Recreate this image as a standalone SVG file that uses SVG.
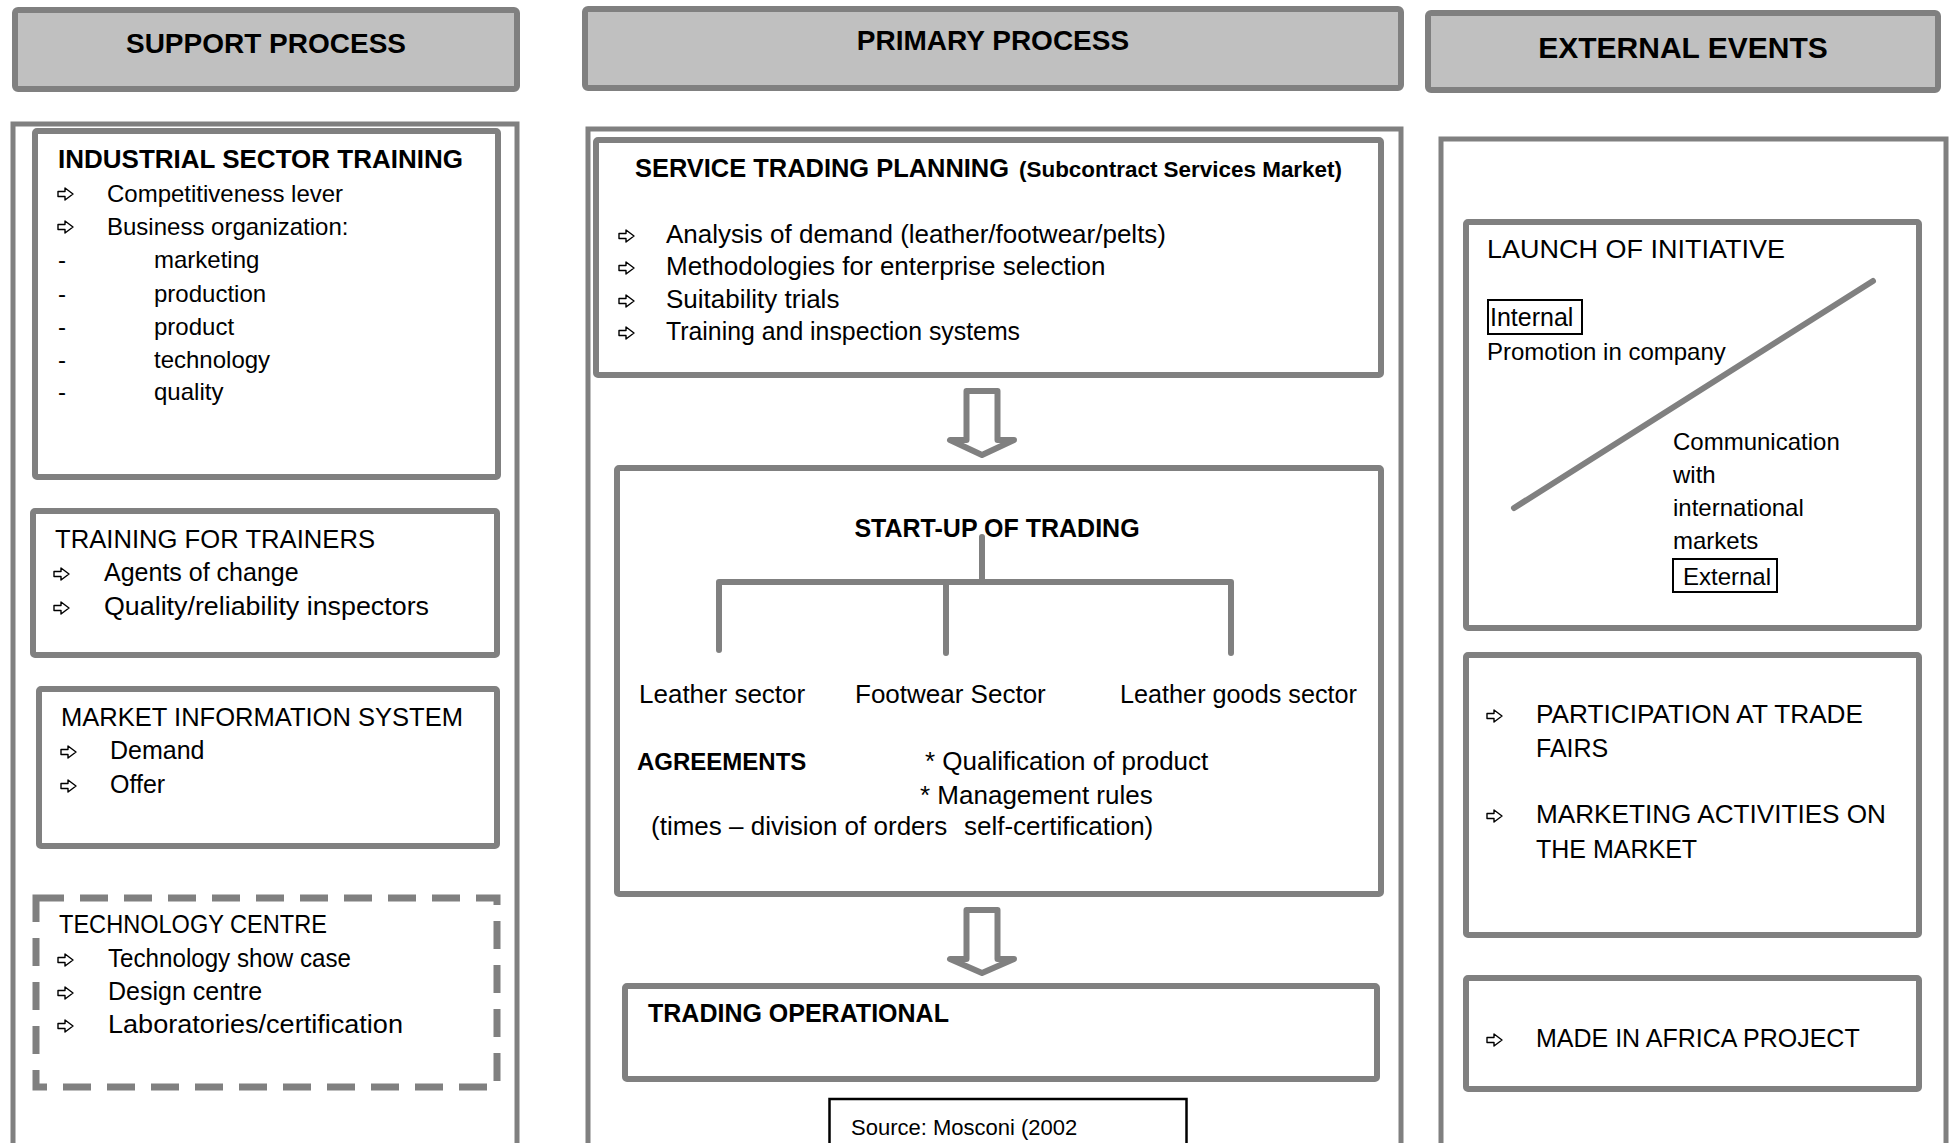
<svg xmlns="http://www.w3.org/2000/svg" width="1951" height="1143" viewBox="0 0 1951 1143">
<style>
.hdr{fill:#c0c0c0;stroke:#808080;stroke-width:6}
.cont{fill:#fff;stroke:#808080;stroke-width:5}
.box{fill:#fff;stroke:#808080;stroke-width:6}
.dash{fill:#fff;stroke:#808080;stroke-width:7;stroke-dasharray:28 16}
.tag{fill:none;stroke:#000;stroke-width:2}
.src{fill:#fff;stroke:#000;stroke-width:2.5}
text{font-family:"Liberation Sans",Arial,sans-serif;fill:#000}
.b{font-weight:bold}
.h{font-weight:bold;font-size:28px;text-anchor:middle}
.s24{font-size:24px}
.s25{font-size:25px}
.s26{font-size:26px}
.conn{stroke:#808080;stroke-width:6;fill:none;stroke-linecap:round}
.blk{fill:#fff;stroke:#808080;stroke-width:6;stroke-linejoin:round}
.bul{fill:#fff;stroke:#000;stroke-width:1.4;stroke-linejoin:round}
</style>
<defs>
<path id="bul" class="bul" d="M0,-2.5 H7 V-6 L15,0 L7,6 V2.5 H0 Z"/>
</defs>
<rect width="1951" height="1143" fill="#fff"/>

<!-- column headers -->
<g id="hdr-support"><rect class="hdr" x="15" y="10" width="502" height="79" rx="3"/><text class="h" x="266" y="53">SUPPORT PROCESS</text></g>
<g id="hdr-primary"><rect class="hdr" x="585" y="9" width="816" height="79" rx="3"/><text class="h" x="993" y="50">PRIMARY PROCESS</text></g>
<g id="hdr-external"><rect class="hdr" x="1428" y="13" width="510" height="77" rx="3"/><text class="h" x="1683" y="58" style="font-size:30px">EXTERNAL EVENTS</text></g>

<!-- column containers -->
<g id="col-support"><rect class="cont" x="13" y="124" width="504" height="1040"/></g>
<g id="col-primary"><rect class="cont" x="588" y="129" width="813" height="1040"/></g>
<g id="col-external"><rect class="cont" x="1441" y="139" width="505" height="1040"/></g>

<!-- support process -->
<g id="industrial-training">
<rect class="box" x="35" y="131" width="463" height="346" rx="2"/>
<text class="b" x="58" y="168" style="font-size:26px">INDUSTRIAL SECTOR TRAINING</text>
<use href="#bul" x="58" y="194"/><text class="s24" x="107" y="202">Competitiveness lever</text>
<use href="#bul" x="58" y="227"/><text class="s24" x="107" y="235">Business organization:</text>
<text class="s24" x="58" y="268">-</text><text class="s24" x="154" y="268">marketing</text>
<text class="s24" x="58" y="302">-</text><text class="s24" x="154" y="302">production</text>
<text class="s24" x="58" y="335">-</text><text class="s24" x="154" y="335">product</text>
<text class="s24" x="58" y="368">-</text><text class="s24" x="154" y="368">technology</text>
<text class="s24" x="58" y="400">-</text><text class="s24" x="154" y="400">quality</text>
</g>
<g id="training-trainers">
<rect class="box" x="33" y="511" width="464" height="144" rx="2"/>
<text class="s25" x="55" y="548" textLength="320" lengthAdjust="spacingAndGlyphs">TRAINING FOR TRAINERS</text>
<use href="#bul" x="54" y="574"/><text class="s25" x="104" y="581">Agents of change</text>
<use href="#bul" x="54" y="608"/><text class="s25" x="104" y="615" textLength="325" lengthAdjust="spacingAndGlyphs">Quality/reliability inspectors</text>
</g>
<g id="market-info">
<rect class="box" x="39" y="689" width="458" height="157" rx="2"/>
<text class="s25" x="61" y="726" textLength="402" lengthAdjust="spacingAndGlyphs">MARKET INFORMATION SYSTEM</text>
<use href="#bul" x="61" y="752"/><text class="s25" x="110" y="759">Demand</text>
<use href="#bul" x="61" y="786"/><text class="s25" x="110" y="793">Offer</text>
</g>
<g id="technology-centre">
<rect class="dash" x="36" y="898" width="461" height="189"/>
<text class="s25" x="59" y="933" textLength="268" lengthAdjust="spacingAndGlyphs">TECHNOLOGY CENTRE</text>
<use href="#bul" x="58" y="960"/><text class="s25" x="108" y="967" textLength="243" lengthAdjust="spacingAndGlyphs">Technology show case</text>
<use href="#bul" x="58" y="993"/><text class="s25" x="108" y="1000">Design centre</text>
<use href="#bul" x="58" y="1026"/><text class="s25" x="108" y="1033" textLength="295" lengthAdjust="spacingAndGlyphs">Laboratories/certification</text>
</g>

<!-- primary process -->
<g id="service-planning">
<rect class="box" x="596" y="140" width="785" height="235" rx="2"/>
<text class="b" x="635" y="177" style="font-size:25px" textLength="374" lengthAdjust="spacingAndGlyphs">SERVICE TRADING PLANNING</text>
<text class="b" x="1019" y="177" style="font-size:22px" textLength="323" lengthAdjust="spacingAndGlyphs">(Subcontract Services Market)</text>
<use href="#bul" x="619" y="236"/><text class="s26" x="666" y="243">Analysis of demand (leather/footwear/pelts)</text>
<use href="#bul" x="619" y="268"/><text class="s26" x="666" y="275">Methodologies for enterprise selection</text>
<use href="#bul" x="619" y="301"/><text class="s26" x="666" y="308">Suitability trials</text>
<use href="#bul" x="619" y="333"/><text class="s26" x="666" y="340" textLength="354" lengthAdjust="spacingAndGlyphs">Training and inspection systems</text>
</g>
<g id="startup-trading">
<rect class="box" x="617" y="468" width="764" height="426" rx="2"/>
<text class="b" x="997" y="537" text-anchor="middle" style="font-size:25px">START-UP OF TRADING</text>
<text class="s26" x="639" y="703">Leather sector</text>
<text class="s26" x="855" y="703">Footwear Sector</text>
<text class="s26" x="1120" y="703" textLength="237" lengthAdjust="spacingAndGlyphs">Leather goods sector</text>
<text class="b" x="637" y="770" style="font-size:24px">AGREEMENTS</text>
<text class="s26" x="925" y="770">* Qualification of product</text>
<text class="s26" x="920" y="804">* Management rules</text>
<text class="s26" x="651" y="835">(times – division of orders</text>
<text class="s26" x="964" y="835">self-certification)</text>
</g>
<g id="trading-operational">
<rect class="box" x="625" y="986" width="752" height="93" rx="2"/>
<text class="b" x="648" y="1022" style="font-size:25px">TRADING OPERATIONAL</text>
</g>
<g id="source">
<rect class="src" x="829.5" y="1099" width="357" height="60"/>
<text x="851" y="1135" style="font-size:22px">Source: Mosconi (2002</text>
</g>

<!-- external events -->
<g id="launch-initiative">
<rect class="box" x="1466" y="222" width="453" height="406" rx="2"/>
<text class="s26" x="1487" y="258" textLength="298" lengthAdjust="spacingAndGlyphs">LAUNCH OF INITIATIVE</text>
<rect class="tag" x="1488" y="300" width="94" height="34"/>
<text class="s25" x="1490" y="326">Internal</text>
<text class="s24" x="1487" y="360">Promotion in company</text>
<line class="conn" x1="1514" y1="508" x2="1873" y2="281"/>
<text class="s24" x="1673" y="450">Communication</text>
<text class="s24" x="1673" y="483">with</text>
<text class="s24" x="1673" y="516">international</text>
<text class="s24" x="1673" y="549">markets</text>
<rect class="tag" x="1673" y="559" width="104" height="33"/>
<text class="s24" x="1683" y="585">External</text>
</g>
<g id="trade-fairs">
<rect class="box" x="1466" y="655" width="453" height="280" rx="2"/>
<use href="#bul" x="1487" y="716"/><text class="s25" x="1536" y="723" textLength="327" lengthAdjust="spacingAndGlyphs">PARTICIPATION AT TRADE</text>
<text class="s25" x="1536" y="757">FAIRS</text>
<use href="#bul" x="1487" y="816"/><text class="s25" x="1536" y="823" textLength="350" lengthAdjust="spacingAndGlyphs">MARKETING ACTIVITIES ON</text>
<text class="s25" x="1536" y="858">THE MARKET</text>
</g>
<g id="made-in-africa">
<rect class="box" x="1466" y="978" width="453" height="111" rx="2"/>
<use href="#bul" x="1487" y="1040"/><text class="s25" x="1536" y="1047">MADE IN AFRICA PROJECT</text>
</g>

<!-- connectors -->
<g id="connectors">
<path class="blk" d="M966.5,391 H997.5 V440 H1014 L982,455 L950,440 H966.5 Z"/>
<path class="blk" d="M966.5,910 H997.5 V959 H1014 L982,973 L950,959 H966.5 Z"/>
<path class="conn" d="M982,537 V582 M719,582 H1231 M719,582 V650 M946,582 V653 M1231,582 V653"/>
</g>
</svg>
